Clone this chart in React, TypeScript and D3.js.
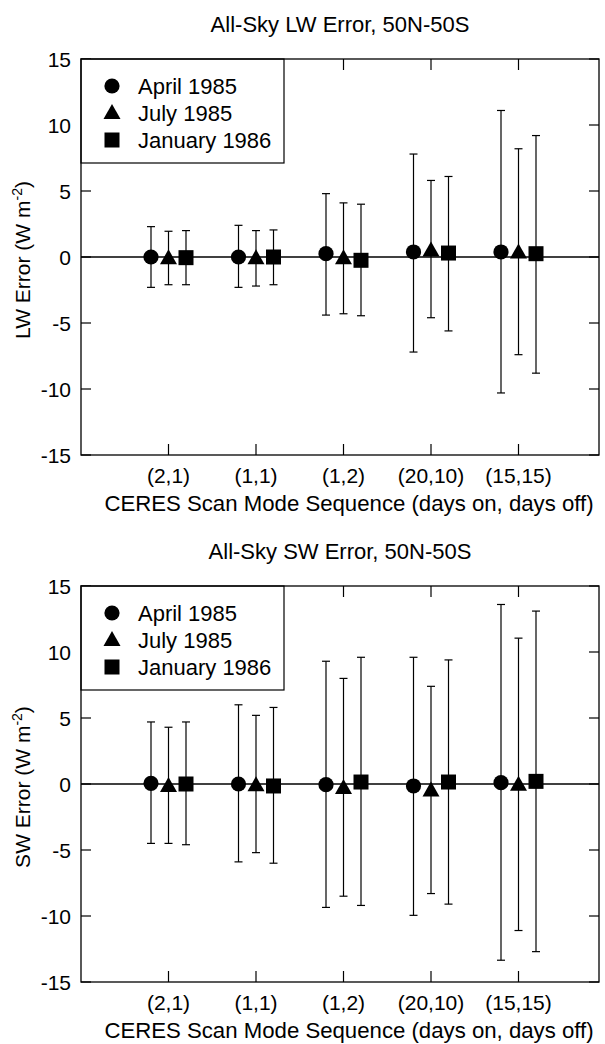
import React from 'react';
import * as d3 from 'd3';

// scan mode sequences (days on, days off)
const categories = ['(2,1)', '(1,1)', '(1,2)', '(20,10)', '(15,15)'];
const seriesNames = ['April 1985', 'July 1985', 'January 1986'];
const yTicks = [-15, -10, -5, 0, 5, 10, 15];

// LW error: mean, top and bottom of error bar
const lwApril = [0.0, 0.0, 0.25, 0.38, 0.38];
const lwAprilHi = [2.3, 2.4, 4.8, 7.8, 11.1];
const lwAprilLo = [-2.3, -2.3, -4.4, -7.2, -10.3];
const lwJuly = [-0.1, -0.1, -0.1, 0.5, 0.35];
const lwJulyHi = [1.95, 2.0, 4.1, 5.8, 8.2];
const lwJulyLo = [-2.1, -2.2, -4.3, -4.6, -7.4];
const lwJan = [-0.05, 0.0, -0.25, 0.3, 0.25];
const lwJanHi = [2.0, 2.05, 4.0, 6.1, 9.2];
const lwJanLo = [-2.1, -2.1, -4.45, -5.6, -8.8];

// SW error
const swApril = [0.05, 0.0, -0.05, -0.15, 0.1];
const swAprilHi = [4.7, 6.0, 9.3, 9.6, 13.6];
const swAprilLo = [-4.5, -5.9, -9.35, -9.95, -13.35];
const swJuly = [-0.15, -0.1, -0.3, -0.5, -0.05];
const swJulyHi = [4.3, 5.2, 8.0, 7.4, 11.05];
const swJulyLo = [-4.5, -5.2, -8.5, -8.3, -11.1];
const swJan = [0.0, -0.15, 0.15, 0.15, 0.2];
const swJanHi = [4.7, 5.8, 9.6, 9.4, 13.1];
const swJanLo = [-4.6, -6.0, -9.2, -9.1, -12.7];

const FONT = '"Liberation Sans", Arial, Helvetica, sans-serif';
const W = 605;
const H = 1044;
const margin = { left: 81, right: 6, top: 59 };
const plotH = 396;

type Series = { mean: number[]; hi: number[]; lo: number[] };

function Marker({ kind, x, y }: { kind: number; x: number; y: number }) {
  if (kind === 0) return <circle cx={x} cy={y} r={7.6} fill="#000" />;
  if (kind === 1) {
    const p = d3.path();
    p.moveTo(x, y - 9);
    p.lineTo(x + 8.5, y + 6);
    p.lineTo(x - 8.5, y + 6);
    p.closePath();
    return <path d={p.toString()} fill="#000" />;
  }
  return <rect x={x - 7.5} y={y - 7.5} width={15} height={15} fill="#000" />;
}

function Panel({ top, title, yLabel, series }: { top: number; title: string; yLabel: string; series: Series[] }) {
  const x = d3.scaleLinear().domain([0, 5.92]).range([margin.left, W - margin.right]);
  const y = d3.scaleLinear().domain([-15, 15]).range([top + plotH, top]);
  const x0 = x.range()[0];
  const x1 = x.range()[1];
  const offsets = [-17.5, 0, 17.5];
  const tick = 10;
  const legendRight = 284;

  return (
    <g>
      <text x={(x0 + x1) / 2} y={top - 27} textAnchor="middle" fontSize={22}>
        {title}
      </text>
      {/* zero line */}
      <line x1={x0} x2={x1} y1={y(0)} y2={y(0)} stroke="#000" strokeWidth={1.4} />
      {/* y ticks on both sides */}
      {yTicks.map(t => (
        <g key={t}>
          <line x1={x0} x2={x0 + tick} y1={y(t)} y2={y(t)} stroke="#000" strokeWidth={1.2} />
          <line x1={x1} x2={x1 - tick} y1={y(t)} y2={y(t)} stroke="#000" strokeWidth={1.2} />
          <text x={71} y={y(t) + 7.5} textAnchor="end" fontSize={21}>
            {t}
          </text>
        </g>
      ))}
      {/* x ticks */}
      {categories.map((c, i) => (
        <g key={c}>
          <line x1={x(i + 1)} x2={x(i + 1)} y1={y(-15)} y2={y(-15) - 11} stroke="#000" strokeWidth={1.2} />
          <line x1={x(i + 1)} x2={x(i + 1)} y1={y(15)} y2={y(15) + 11} stroke="#000" strokeWidth={1.2} />
          <text x={x(i + 1)} y={y(-15) + 28} textAnchor="middle" fontSize={21}>
            {c}
          </text>
        </g>
      ))}
      <text x={(x0 + x1) / 2 + 9} y={y(-15) + 56} textAnchor="middle" fontSize={22.2}>
        CERES Scan Mode Sequence (days on, days off)
      </text>
      <text transform={`translate(30,${y(0) + 3}) rotate(-90)`} textAnchor="middle" fontSize={21}>
        {yLabel} (W m
        <tspan dy={-8} fontSize={14}>-2</tspan>
        <tspan dy={8}>)</tspan>
      </text>
      {/* error bars and markers */}
      {series.map((s, k) =>
        s.mean.map((m, i) => {
          const cx = x(i + 1) + offsets[k];
          return (
            <g key={`${k}-${i}`}>
              <line x1={cx} x2={cx} y1={y(s.hi[i])} y2={y(s.lo[i])} stroke="#000" strokeWidth={1.2} />
              <line x1={cx - 4} x2={cx + 4} y1={y(s.hi[i])} y2={y(s.hi[i])} stroke="#000" strokeWidth={1.2} />
              <line x1={cx - 4} x2={cx + 4} y1={y(s.lo[i])} y2={y(s.lo[i])} stroke="#000" strokeWidth={1.2} />
              <Marker kind={k} x={cx} y={y(m)} />
            </g>
          );
        })
      )}
      {/* legend */}
      <rect x={x0} y={top} width={legendRight - x0} height={104} fill="#fff" stroke="#000" strokeWidth={1.2} />
      {seriesNames.map((n, k) => (
        <g key={n}>
          <Marker kind={k} x={x0 + 31} y={top + 27 * (k + 1)} />
          <text x={x0 + 57} y={top + 27 * (k + 1) + 8} fontSize={22}>
            {n}
          </text>
        </g>
      ))}
      {/* frame */}
      <rect x={x0} y={top} width={x1 - x0} height={plotH} fill="none" stroke="#000" strokeWidth={1.3} />
    </g>
  );
}

export default function App() {
  const lw: Series[] = [
    { mean: lwApril, hi: lwAprilHi, lo: lwAprilLo },
    { mean: lwJuly, hi: lwJulyHi, lo: lwJulyLo },
    { mean: lwJan, hi: lwJanHi, lo: lwJanLo },
  ];
  const sw: Series[] = [
    { mean: swApril, hi: swAprilHi, lo: swAprilLo },
    { mean: swJuly, hi: swJulyHi, lo: swJulyLo },
    { mean: swJan, hi: swJanHi, lo: swJanLo },
  ];
  return (
    <div style={{ position: 'absolute', left: 0, top: 0 }}>
      <svg width={W} height={H} style={{ display: 'block', fontFamily: FONT }}>
        <rect width={W} height={H} fill="#fff" />
        <Panel top={margin.top} title="All-Sky LW Error, 50N-50S" yLabel="LW Error" series={lw} />
        <Panel top={margin.top + 527} title="All-Sky SW Error, 50N-50S" yLabel="SW Error" series={sw} />
      </svg>
    </div>
  );
}
